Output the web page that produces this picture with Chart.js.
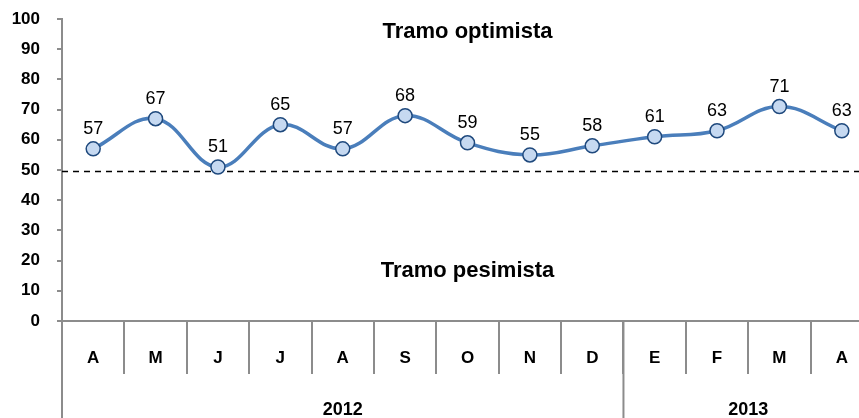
<!doctype html>
<html lang="es">
  <head>
    <meta charset="utf-8">
    <title>Tramo optimista / pesimista</title>
    <script src="https://cdn.jsdelivr.net/npm/chart.js"></script>
    <style>
      html, body { margin: 0; background: #fff; overflow: hidden; }
    </style>
  </head>
  <body>
    <canvas id="tramoChart" width="873" height="418"></canvas>
    <script>
      const months = ['A', 'M', 'J', 'J', 'A', 'S', 'O', 'N', 'D', 'E', 'F', 'M', 'A'];
      const values = [57, 67, 51, 65, 57, 68, 59, 55, 58, 61, 63, 71, 63];
      const years = ['2012', '2013'];
      const yearSpans = [9, 4];
      const threshold = 50;
      const zoneLabels = [
        { text: 'Tramo optimista', value: 95.7 },
        { text: 'Tramo pesimista', value: 16.6 }
      ];

      const FONT = '"Liberation Sans", Arial, sans-serif';
      const AXIS_GREY = '#8c8c8c';

      const extras = {
        id: 'extras',
        beforeDatasetsDraw(chart) {
          const ctx = chart.ctx;
          const area = chart.chartArea;
          const y = chart.scales.y;
          ctx.save();
          // dashed 50 line
          ctx.strokeStyle = '#000';
          ctx.lineWidth = 1.5;
          ctx.setLineDash([6, 5]);
          ctx.beginPath();
          const yy = Math.round(y.getPixelForValue(threshold)) + 1.5;
          ctx.moveTo(area.left, yy);
          ctx.lineTo(area.right, yy);
          ctx.stroke();
          ctx.setLineDash([]);
          // zone titles
          ctx.fillStyle = '#000';
          ctx.font = 'bold 22px ' + FONT;
          ctx.textAlign = 'center';
          ctx.textBaseline = 'middle';
          const cx = (area.left + area.right) / 2;
          zoneLabels.forEach(z => ctx.fillText(z.text, cx, y.getPixelForValue(z.value)));
          ctx.restore();
        },
        afterDraw(chart) {
          const ctx = chart.ctx;
          const area = chart.chartArea;
          const x = chart.scales.x;
          const meta = chart.getDatasetMeta(0);
          ctx.save();
          // data labels
          ctx.fillStyle = '#000';
          ctx.font = '18px ' + FONT;
          ctx.textAlign = 'center';
          ctx.textBaseline = 'middle';
          meta.data.forEach((pt, i) => {
            ctx.fillText(String(values[i]), pt.x, pt.y - 20);
          });
          // month labels
          ctx.font = 'bold 17px ' + FONT;
          x.getLabels().forEach((m, i) => {
            ctx.fillText(m, x.getPixelForValue(i), area.bottom + 37);
          });
          // year row
          const h = chart.height;
          ctx.strokeStyle = AXIS_GREY;
          ctx.lineWidth = 2;
          ctx.beginPath();
          ctx.moveTo(area.left, area.bottom);
          ctx.lineTo(area.left, h);
          ctx.stroke();
          const half = (x.getPixelForValue(1) - x.getPixelForValue(0)) / 2;
          let start = 0;
          ctx.font = 'bold 18px ' + FONT;
          years.forEach((yr, i) => {
            const end = start + yearSpans[i] - 1;
            const left = x.getPixelForValue(start) - half;
            const right = x.getPixelForValue(end) + half;
            if (i > 0) {
              ctx.beginPath();
              ctx.moveTo(left, area.bottom);
              ctx.lineTo(left, h);
              ctx.stroke();
            }
            ctx.fillText(yr, (left + right) / 2, area.bottom + 89);
            start = end + 1;
          });
          ctx.restore();
        }
      };

      window.onload = function() {
        const ctx = document.getElementById('tramoChart').getContext('2d');
        new Chart(ctx, {
          type: 'line',
          data: {
            labels: months,
            datasets: [{
              data: values,
              borderColor: '#4a7ebb',
              borderWidth: 3.5,
              tension: 0.4,
              pointRadius: 7,
              pointHoverRadius: 7,
              pointBackgroundColor: '#c6d9f1',
              pointBorderColor: '#1f497d',
              pointBorderWidth: 1.5,
              fill: false
            }]
          },
          options: {
            responsive: false,
            animation: false,
            devicePixelRatio: 1,
            layout: { autoPadding: false, padding: { top: 19, right: 0, bottom: 44, left: 0 } },
            plugins: {
              legend: { display: false },
              tooltip: { enabled: false }
            },
            scales: {
              x: {
                offset: true,
                afterFit(scale) { scale.height = 53; },
                grid: {
                  offset: true,
                  drawOnChartArea: false,
                  tickLength: 53,
                  color: AXIS_GREY,
                  lineWidth: 2
                },
                border: { color: AXIS_GREY, width: 2 },
                ticks: { display: false }
              },
              y: {
                min: 0,
                max: 100,
                afterFit(scale) {
                  scale.width = 62;
                  scale.paddingTop = 0;
                  scale.paddingBottom = 0;
                },
                grid: {
                  drawOnChartArea: false,
                  tickLength: 5,
                  color: AXIS_GREY,
                  lineWidth: 2
                },
                border: { color: AXIS_GREY, width: 2 },
                ticks: {
                  stepSize: 10,
                  padding: 17,
                  color: '#000',
                  font: { family: FONT, size: 17, weight: 'bold' }
                }
              }
            }
          },
          plugins: [extras]
        });
      };
    </script>
  </body>
</html>
